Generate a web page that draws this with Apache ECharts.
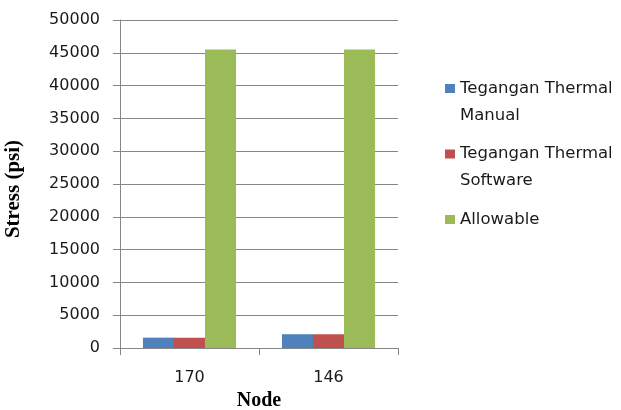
<!DOCTYPE html>
<html>
<head>
<meta charset="utf-8">
<script src="https://cdn.jsdelivr.net/npm/echarts@6/dist/echarts.min.js"></script>
<style>html,body{margin:0;padding:0;background:#fff;}#c{width:621px;height:410px;}</style>
</head>
<body>
<div id="c"></div>
<script>
var categories = ['170', '146'];
var manual = [1580, 2100];
var software = [1580, 2100];
var allowable = [45500, 45500];
var seriesNames = ['Tegangan Thermal Manual', 'Tegangan Thermal Software', 'Allowable'];
var legendLabels = ['Tegangan Thermal\nManual', 'Tegangan Thermal\nSoftware', 'Allowable'];
var colors = ['#4F81BD', '#C0504D', '#9BBB59'];

var chart = echarts.init(document.getElementById('c'), null, {renderer: 'canvas'});
var gray = '#878787';
var font = 'DejaVu Sans';

function makeLegend(idx, top) {
  var label = legendLabels[idx];
  var multi = label.indexOf('\n') >= 0;
  return {
    orient: 'vertical',
    left: 445,
    top: top,
    padding: 0,
    itemWidth: 10,
    itemHeight: 9,
    icon: 'rect',
    selectedMode: false,
    formatter: function () { return multi ? '\u00a0\n' + label : label; },
    textStyle: {fontFamily: font, fontSize: 16.5, color: '#1a1a1a', lineHeight: 27},
    data: [seriesNames[idx]]
  };
}

var option = {
  animation: false,
  color: colors,
  grid: {left: 120, right: 223, top: 20, bottom: 62, containLabel: false, outerBoundsMode: 'none'},
  legend: [makeLegend(0, 48), makeLegend(1, 113.5), makeLegend(2, 206)],
  xAxis: {
    type: 'category',
    data: categories,
    name: 'Node',
    nameLocation: 'middle',
    nameGap: 43,
    nameTextStyle: {fontFamily: 'Liberation Serif', fontWeight: 'bold', fontSize: 20, color: '#000'},
    axisLine: {lineStyle: {color: gray, width: 1}},
    axisTick: {show: true, length: 7, lineStyle: {color: gray}},
    axisLabel: {fontFamily: font, fontSize: 16, color: '#1a1a1a', margin: 22}
  },
  yAxis: {
    type: 'value',
    min: 0,
    max: 50000,
    interval: 5000,
    name: 'Stress (psi)',
    nameLocation: 'middle',
    nameGap: 96,
    nameTextStyle: {fontFamily: 'Liberation Serif', fontWeight: 'bold', fontSize: 21, color: '#000', padding: [0, 10, 0, 0]},
    axisLine: {show: true, lineStyle: {color: gray, width: 1}},
    axisTick: {show: true, length: 7, lineStyle: {color: gray}},
    splitLine: {show: true, lineStyle: {color: gray, width: 1}},
    axisLabel: {fontFamily: font, fontSize: 16, color: '#1a1a1a', margin: 20, formatter: function (v) { return String(v); }}
  },
  series: [
    {name: seriesNames[0], type: 'bar', data: manual, barGap: '0%', barCategoryGap: '33%'},
    {name: seriesNames[1], type: 'bar', data: software, barGap: '0%', barCategoryGap: '33%'},
    {name: seriesNames[2], type: 'bar', data: allowable, barGap: '0%', barCategoryGap: '33%'}
  ]
};
chart.setOption(option);
</script>
</body>
</html>
